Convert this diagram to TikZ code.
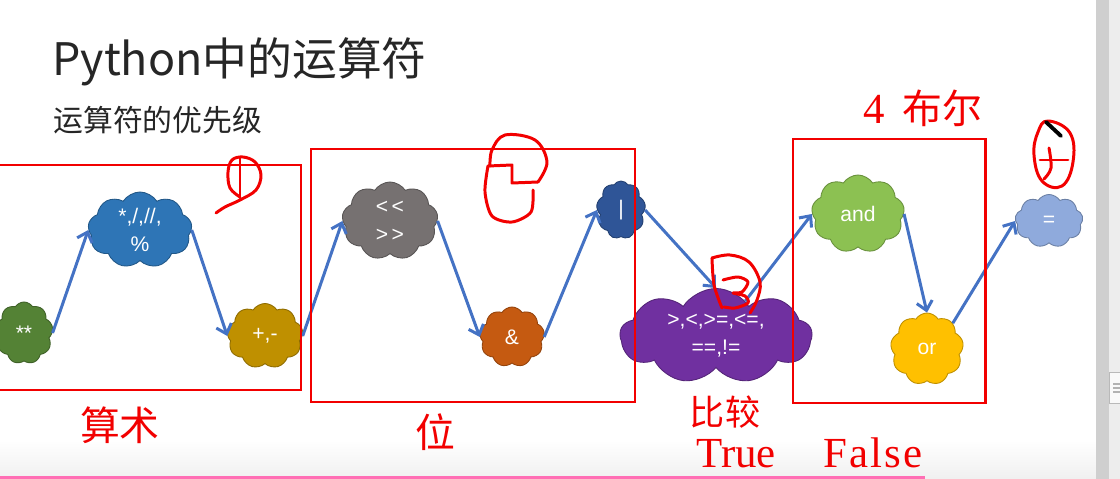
\documentclass[tikz,border=0pt]{standalone}
\usepackage{fontspec}
\usetikzlibrary{shapes.symbols,arrows.meta}
\newfontfamily\cjk{Noto Sans CJK SC}
\newfontfamily\rmserif{Liberation Serif}
\setsansfont{Liberation Sans}
\definecolor{cG}{HTML}{548235}
\definecolor{cB}{HTML}{2E75B6}
\definecolor{cO}{HTML}{BF9000}
\definecolor{cGr}{HTML}{767171}
\definecolor{cOr}{HTML}{C55A11}
\definecolor{cDB}{HTML}{2F5597}
\definecolor{cP}{HTML}{7030A0}
\definecolor{cAnd}{HTML}{8CC152}
\definecolor{cY}{HTML}{FFC000}
\definecolor{cEq}{HTML}{8FAADC}
\definecolor{arrowblue}{HTML}{4472C4}
\definecolor{penred}{HTML}{F20000}
\definecolor{pinkline}{HTML}{FF6EB4}
\begin{document}
\begin{tikzpicture}[x=0.02cm,y=-0.02cm,
  puff/.style={cloud, cloud puffs=9, cloud puff arc=115, fill=#1, draw=#1!75!black,
    line width=0.5pt, text=white, align=center, inner sep=0pt,
    font=\sffamily\fontsize{12}{16}\selectfont},
  conn/.style={draw=arrowblue, line width=1.7pt, -{Straight Barb[length=5pt,width=9pt]}},
  redbox/.style={draw=penred, line width=1.7pt},
  pen/.style={draw=penred, line width=1.7pt, line cap=round, line join=round},
  redtxt/.style={text=penred, inner sep=0pt}]
\useasboundingbox (0,0) rectangle (1120,479);
\clip (0,0) rectangle (1120,479);
% background
\fill[white] (0,0) rectangle (1120,479);
\shade[top color=white, bottom color=gray!12] (0,440) rectangle (1096,479);
\draw[pinkline, line width=1.2pt] (0,477.5) -- (925,477.5);
% scrollbar
\fill[gray!38] (1096,0) rectangle (1109,479);
\fill[gray!14] (1109,0) rectangle (1120,479);
\draw[gray!55, fill=gray!5] (1109,372) rectangle (1122,403);
\draw[gray!60, line width=0.8pt] (1113,384) -- (1120,384) (1113,388) -- (1120,388) (1113,392) -- (1120,392);
% titles
\node[anchor=base west, inner sep=0pt, font=\cjk\fontsize{25.5}{30}\selectfont, text=black!85] (title) at (52,76) {Python中的运算符};
\node[anchor=west, inner sep=0pt, font=\cjk\fontsize{17}{20}\selectfont, text=black!85] (sub) at (53,120) {运算符的优先级};
% clouds
\node[puff=cG, aspect=0.95, minimum width=58*0.02cm, minimum height=62*0.02cm] (pow) at (24,333) {**};
\node[puff=cB, aspect=1.4, minimum width=104*0.02cm, minimum height=76*0.02cm] (mul) at (140,230) {*,/,//,\\\%};
\node[puff=cO, aspect=1.15, minimum width=76*0.02cm, minimum height=65*0.02cm] (add) at (265,336) {+,-};
\node[puff=cGr, aspect=1.25, minimum width=96*0.02cm, minimum height=78*0.02cm] (shift) at (390,221) {{<}\,{<}\\{>}\,{>}};
\node[puff=cOr, aspect=1.1, minimum width=65*0.02cm, minimum height=60*0.02cm] (band) at (512,337) {\&};
\node[puff=cDB, aspect=0.85, minimum width=49*0.02cm, minimum height=58*0.02cm] (bor) at (621,210) {|};
\node[puff=cP, aspect=2, minimum width=192*0.02cm, minimum height=95*0.02cm] (cmp) at (716,336) {>,<,>=,<=,\\==,!=};
\node[puff=cAnd, aspect=1.2, minimum width=93*0.02cm, minimum height=78*0.02cm] (and) at (858,214) {and};
\node[puff=cY, aspect=1, minimum width=73*0.02cm, minimum height=72*0.02cm] (or) at (927,349) {or};
\node[puff=cEq, aspect=1.3, minimum width=68*0.02cm, minimum height=53*0.02cm] (eq) at (1049,221) {=};
% connectors
\draw[conn] (pow.east) -- (mul.west);
\draw[conn] (mul.east) -- (add.west);
\draw[conn] (add.east) -- (shift.west);
\draw[conn] (shift.east) -- (band.west);
\draw[conn] (band.east) -- (bor.west);
\draw[conn] (bor.east) -- (cmp.north);
\draw[conn] (cmp.50) -- (and.west);
\draw[conn] (and.east) -- (or.north);
\draw[conn] (or.45) -- (eq.west);
% red boxes
\draw[redbox] (-5,165) rectangle (301,390);
\draw[redbox] (311,149) rectangle (635,402);
\draw[redbox] (793,139) rectangle (985,403);
% hand marks
\draw[pen] plot[smooth, tension=0.6] coordinates {(240,197) (230,188) (228,172) (232,160) (243,157) (255,162) (261,175) (256,190) (240,200) (225,207) (216,213)};
\draw[pen] (240,158) -- (240,196);
\draw[pen] plot[smooth, tension=0.5] coordinates {(533,190) (531,212) (512,222) (492,216) (485,192) (488,166)};
\draw[pen] (488,166) -- (512,165) -- (512,183) -- (538,182);
\draw[pen] plot[smooth, tension=0.6] coordinates {(538,182) (547,162) (535,140) (505,135) (492,150) (490,166)};
\draw[pen] plot[smooth, tension=0.5] coordinates {(722,308) (714,285) (712,258)};
\draw[pen] plot[smooth, tension=0.6] coordinates {(712,258) (730,255) (749,262) (760,282) (757,300) (750,313)};
\draw[pen] plot[smooth, tension=0.5] coordinates {(723,280) (738,277) (748,282) (742,292) (733,293) (745,296) (748,303) (735,308) (724,307)};
\draw[pen] plot[smooth cycle, tension=0.7] coordinates {(1048,121) (1070,133) (1073,162) (1062,186) (1042,181) (1034,155) (1038,132)};
\draw[pen] (1040,160) -- (1068,160);
\draw[pen] plot[smooth, tension=0.6] coordinates {(1049,148) (1051,168) (1044,179)};
\draw[black, line width=2.2pt, line cap=round] (1046,122) -- (1061,136);
% red labels
\node[redtxt, font=\cjk\fontsize{22.7}{26}\selectfont] (l1) at (120,425) {算术};
\node[redtxt, font=\cjk\fontsize{22.7}{26}\selectfont] (l2) at (435,432) {位};
\node[redtxt, font=\cjk\fontsize{20}{24}\selectfont] (l3) at (725,412) {比较};
\node[redtxt, anchor=base west, font=\rmserif\fontsize{24.4}{28}\selectfont] (l4) at (696,468) {True};
\node[redtxt, anchor=base west, font=\rmserif\fontsize{24.4}{28}\selectfont] (l5) at (823,468) {\addfontfeature{LetterSpace=5}False};
\node[redtxt, anchor=base west] (l6) at (863,124) {{\rmserif\fontsize{24.4}{28}\selectfont 4}\hspace{10pt}{\cjk\fontsize{22.7}{26}\selectfont 布尔}};
\end{tikzpicture}
\end{document}
